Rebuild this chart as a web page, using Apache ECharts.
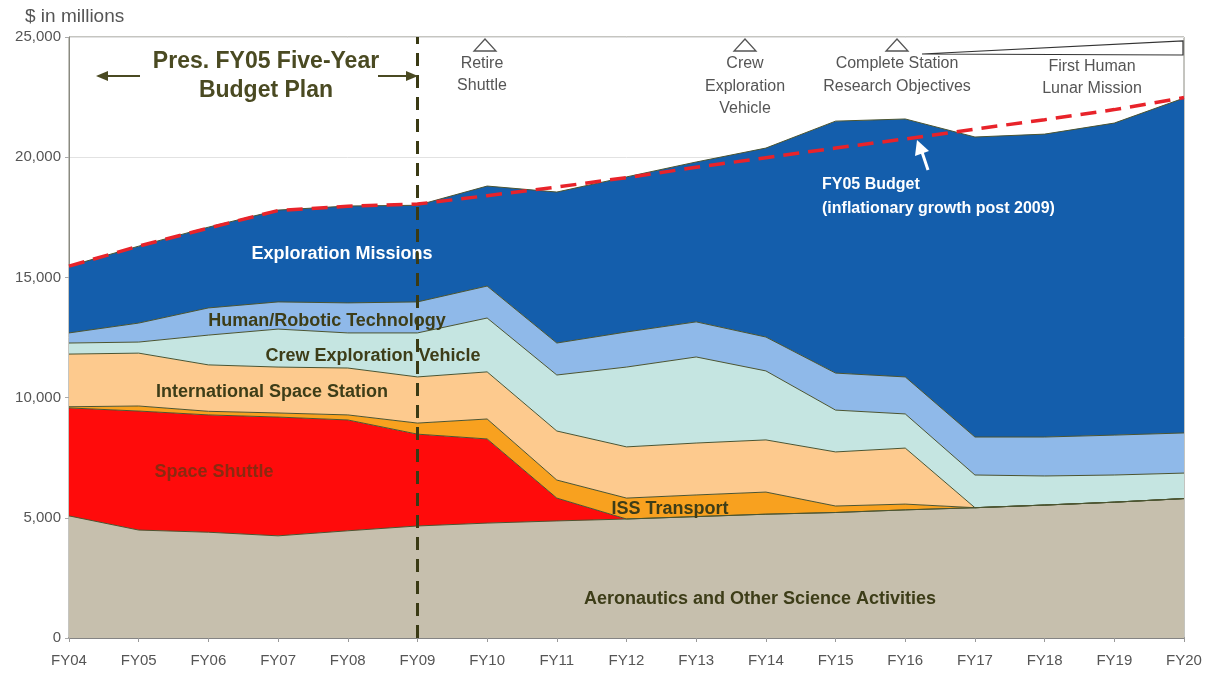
<!DOCTYPE html>
<html lang="en">
<head>
    <meta charset="utf-8">
    <title>NASA budget FY04-FY20</title>
    <style>
        body { margin: 0; background: #fff; }
        #main { width: 1207px; height: 680px; }
    </style>
</head>
<body>
<div id="main"></div>
<script src="https://cdn.jsdelivr.net/npm/echarts@6/dist/echarts.min.js"></script>
<script>
    // $ in millions (each stacked layer = its own thickness)
    var years = ['FY04','FY05','FY06','FY07','FY08','FY09','FY10','FY11','FY12','FY13','FY14','FY15','FY16','FY17','FY18','FY19','FY20'];
    var aeronautics  = [5080, 4490, 4400, 4250, 4460, 4660, 4780, 4870, 4950, 5050, 5150, 5220, 5330, 5420, 5530, 5650, 5800];
    var shuttle      = [4490, 4950, 4880, 4940, 4610, 3820, 3500, 950, 0, 0, 0, 0, 0, 0, 0, 0, 0];
    var issTransport = [50, 210, 150, 170, 210, 460, 830, 750, 870, 900, 920, 270, 240, 0, 0, 0, 0];
    var iss          = [2190, 2200, 1930, 1910, 1950, 1920, 1960, 2040, 2130, 2160, 2170, 2250, 2330, 0, 0, 0, 0];
    var cev          = [460, 460, 1240, 1580, 1460, 1830, 2240, 2330, 3320, 3580, 2870, 1740, 1420, 1360, 1210, 1130, 1060];
    var hrt          = [420, 790, 1130, 1130, 1250, 1290, 1330, 1330, 1460, 1460, 1410, 1540, 1540, 1580, 1620, 1660, 1670];
    var exploration  = [2780, 3200, 3360, 3820, 4030, 4020, 4160, 6280, 6450, 6650, 7860, 10480, 10730, 12480, 12600, 12980, 13930];
    var fy05Budget   = [15470, 16300, 17050, 17780, 17960, 18050, 18400, 18760, 19150, 19580, 19980, 20380, 20760, 21170, 21560, 21980, 22480];
    var yMax = 25000, yStep = 5000;

    var edge = '#4b5430';
    function layer(name, data, color) {
        return {
            name: name, type: 'line', stack: 'total', data: data,
            symbol: 'none', smooth: false,
            lineStyle: { color: edge, width: 1 },
            areaStyle: { color: color, opacity: 1 },
            emphasis: { disabled: true }
        };
    }

    var series = [
        layer('Aeronautics and Other Science Activities', aeronautics, '#c6bfad'),
        layer('Space Shuttle', shuttle, '#ff0b0b'),
        layer('ISS Transport', issTransport, '#f8a11f'),
        layer('International Space Station', iss, '#fdca8e'),
        layer('Crew Exploration Vehicle', cev, '#c5e5e1'),
        layer('Human/Robotic Technology', hrt, '#8fb9e9'),
        layer('Exploration Missions', exploration, '#145eac')
    ];
    series[6].markLine = {
        silent: true, symbol: 'none', label: { show: false },
        lineStyle: { color: '#3a3a14', width: 3, type: [13, 9] },
        data: [{ xAxis: 'FY09' }]
    };
    series.push({
        name: 'FY05 Budget', type: 'line', data: fy05Budget, symbol: 'none', z: 5,
        lineStyle: { color: '#e8232a', width: 3.5, type: [16, 9] }
    });

    var dark = '#3d3d18';
    var txt = function (x, y, s, o) {
        o = o || {};
        return {
            type: 'text', x: x, y: y, z: 100,
            style: {
                text: s, fill: o.fill || dark, textAlign: o.align || 'center', textVerticalAlign: 'middle',
                font: (o.weight || 'bold') + ' ' + (o.size || 18) + 'px "Liberation Sans", Arial, sans-serif'
            }
        };
    };
    var tri = function (cx) {
        return { type: 'polygon', z: 100, shape: { points: [[cx, 39], [cx - 11, 51], [cx + 11, 51]] },
            style: { fill: '#fff', stroke: '#555', lineWidth: 1.3 } };
    };
    var grey = { weight: 'normal', size: 16, fill: '#555' };

    var graphics = [
        txt(25, 17, '$ in millions', { weight: 'normal', size: 19, fill: '#555', align: 'left' }),
        txt(266, 62, 'Pres. FY05 Five-Year', { size: 23, fill: '#4a4a22' }),
        txt(266, 91, 'Budget Plan', { size: 23, fill: '#4a4a22' }),
        { type: 'line', z: 100, shape: { x1: 104, y1: 76, x2: 140, y2: 76 }, style: { stroke: '#4a4a22', lineWidth: 2 } },
        { type: 'polygon', z: 100, shape: { points: [[96, 76], [108, 71], [108, 81]] }, style: { fill: '#4a4a22' } },
        { type: 'line', z: 100, shape: { x1: 378, y1: 76, x2: 410, y2: 76 }, style: { stroke: '#4a4a22', lineWidth: 2 } },
        { type: 'polygon', z: 100, shape: { points: [[418, 76], [406, 71], [406, 81]] }, style: { fill: '#4a4a22' } },

        tri(485), tri(745), tri(897),
        { type: 'polygon', z: 100, shape: { points: [[922, 54], [1183, 41], [1183, 55]] },
            style: { fill: 'none', stroke: '#333', lineWidth: 1.2 } },
        txt(482, 64, 'Retire', grey), txt(482, 86, 'Shuttle', grey),
        txt(745, 64, 'Crew', grey), txt(745, 87, 'Exploration', grey), txt(745, 109, 'Vehicle', grey),
        txt(897, 64, 'Complete Station', grey), txt(897, 87, 'Research Objectives', grey),
        txt(1092, 67, 'First Human', grey), txt(1092, 89, 'Lunar Mission', grey),

        // white arrow to the budget line
        { type: 'line', z: 100, shape: { x1: 922, y1: 152, x2: 928, y2: 170 }, style: { stroke: '#fff', lineWidth: 3 } },
        { type: 'polygon', z: 100, shape: { points: [[917, 140], [929, 151], [915, 156]] }, style: { fill: '#fff' } },
        txt(822, 185, 'FY05 Budget', { size: 16, fill: '#fff', align: 'left' }),
        txt(822, 209, '(inflationary growth post 2009)', { size: 16, fill: '#fff', align: 'left' }),

        txt(342, 254, 'Exploration Missions', { fill: '#fff' }),
        txt(327, 321, 'Human/Robotic Technology'),
        txt(373, 356, 'Crew Exploration Vehicle'),
        txt(272, 392, 'International Space Station'),
        txt(214, 472, 'Space Shuttle', { fill: '#8a2a10' }),
        txt(670, 509, 'ISS Transport'),
        txt(760, 599, 'Aeronautics and Other Science Activities')
    ];

    var myChart = echarts.init(document.getElementById('main'));
    var option = {
        animation: false,
        textStyle: { fontFamily: '"Liberation Sans", Arial, sans-serif' },
        grid: { left: 69, right: 23, top: 37, bottom: 42, show: true, borderColor: '#8a8a80', borderWidth: 1 },
        xAxis: {
            type: 'category', data: years, boundaryGap: false,
            axisLine: { lineStyle: { color: '#666', width: 1.5 } },
            axisTick: { show: true, length: 4, lineStyle: { color: '#999' } },
            axisLabel: { color: '#555', fontSize: 15, margin: 15 }
        },
        yAxis: {
            type: 'value', min: 0, max: yMax, interval: yStep,
            axisLine: { show: true, lineStyle: { color: '#8a8a80' } },
            axisTick: { show: true, length: 4, lineStyle: { color: '#aaa' } },
            axisLabel: { color: '#555', fontSize: 15, margin: 8,
                formatter: function (v) { return v.toLocaleString('en-US'); } },
            splitLine: { lineStyle: { color: '#e2e2e2' } }
        },
        series: series,
        graphic: graphics
    };
    myChart.setOption(option);
</script>
</body>
</html>
